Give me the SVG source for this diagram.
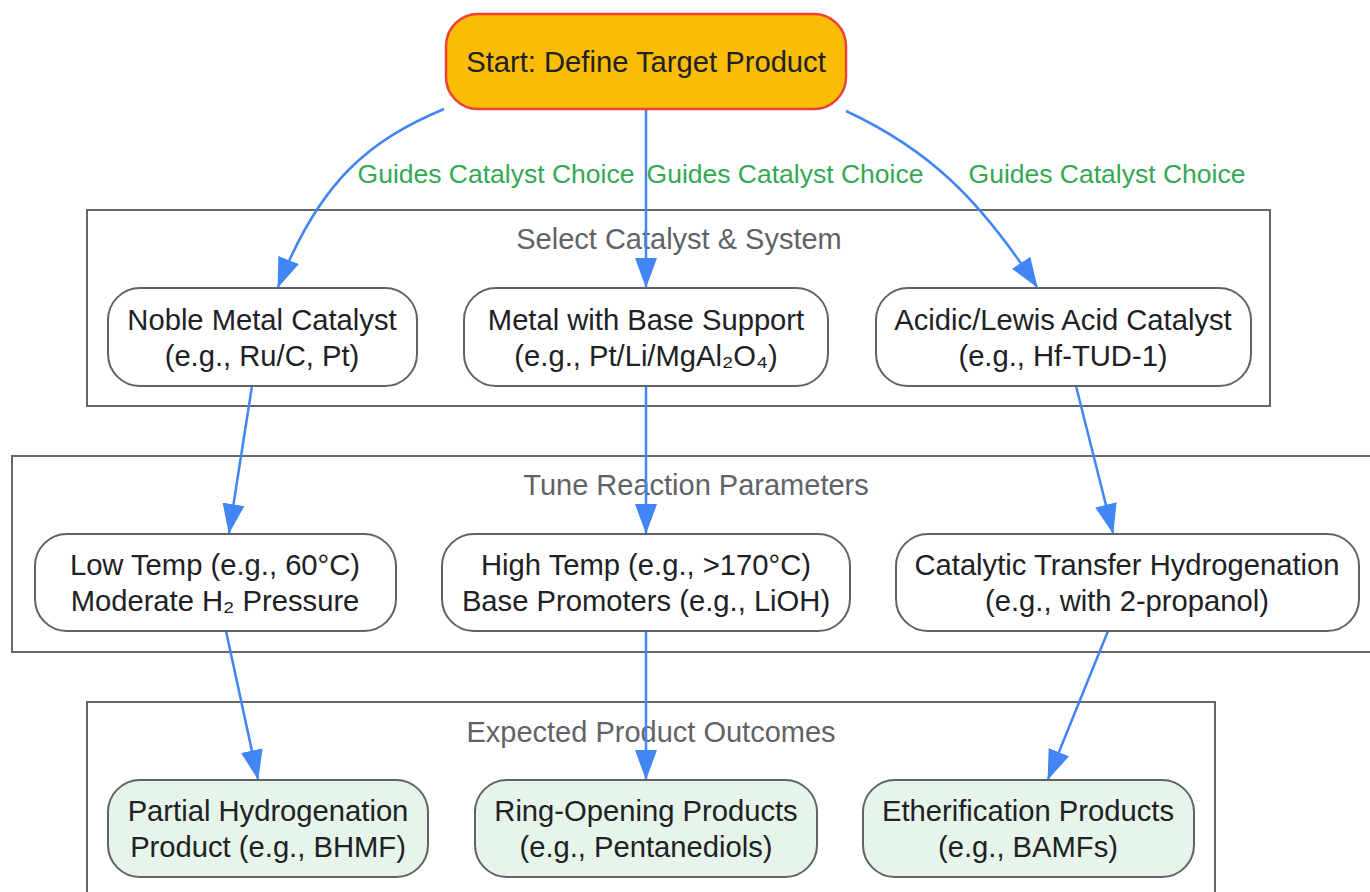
<svg xmlns="http://www.w3.org/2000/svg" width="1370" height="892" viewBox="0 0 1370 892">
<defs>
<marker id="arr" markerUnits="userSpaceOnUse" markerWidth="30" markerHeight="22" refX="29" refY="11" orient="auto">
<path d="M0,0 L30,11 L0,22 z" fill="#4285F4"/>
</marker>
<style>
.cl{fill:none;stroke:#666;stroke-width:2}
.ct{font-family:"Liberation Sans",Arial,sans-serif;font-size:29px;fill:#5f6368;text-anchor:middle}
.nd{fill:#fff;stroke:#5f6368;stroke-width:2}
.out{fill:#E6F4EA;stroke:#5f6368;stroke-width:2}
.tx{font-family:"Liberation Sans",Arial,sans-serif;font-size:29.2px;fill:#202124;text-anchor:middle}
.ed{fill:none;stroke:#4285F4;stroke-width:2.5;marker-end:url(#arr)}
.el{font-family:"Liberation Sans",Arial,sans-serif;font-size:26.5px;fill:#34A853;text-anchor:middle}
</style>
</defs>
<rect width="1370" height="892" fill="#fff"/>

<g id="cluster-select">
<rect class="cl" x="87" y="210" width="1183" height="196"/>
<text class="ct" x="679" y="249">Select Catalyst &amp; System</text>
</g>
<g id="cluster-tune">
<rect class="cl" x="12" y="456" width="1380" height="196"/>
<text class="ct" x="696" y="495">Tune Reaction Parameters</text>
</g>
<g id="cluster-outcomes">
<rect class="cl" x="87" y="702" width="1128" height="220"/>
<text class="ct" x="651" y="742">Expected Product Outcomes</text>
</g>

<g id="connectors">
<path class="ed" d="M444,109 C370,140 320,180 278,287"/>
<path class="ed" d="M646,109 L646,287"/>
<path class="ed" d="M846,111 C930,150 980,200 1037,287"/>
<path class="ed" d="M252,386 L229,533"/>
<path class="ed" d="M646,386 L646,533"/>
<path class="ed" d="M1076,386 L1113,533"/>
<path class="ed" d="M226,631 L258,779"/>
<path class="ed" d="M646,631 L646,779"/>
<path class="ed" d="M1108,631 L1048,779"/>
<text class="el" x="496" y="183">Guides Catalyst Choice</text>
<text class="el" x="785" y="183">Guides Catalyst Choice</text>
<text class="el" x="1107" y="183">Guides Catalyst Choice</text>
</g>

<g id="start">
<rect x="446" y="14" width="400" height="95" rx="32" fill="#FBBC05" stroke="#EA4335" stroke-width="2.5"/>
<text class="tx" x="646" y="72">Start: Define Target Product</text>
</g>
<g id="noble">
<rect class="nd" x="108" y="288" width="309" height="98" rx="32"/>
<text class="tx" x="262" y="330">Noble Metal Catalyst</text>
<text class="tx" x="262" y="366">(e.g., Ru/C, Pt)</text>
</g>
<g id="metal-base">
<rect class="nd" x="464" y="288" width="364" height="98" rx="32"/>
<text class="tx" x="646" y="330">Metal with Base Support</text>
<text class="tx" x="646" y="366">(e.g., Pt/Li/MgAl₂O₄)</text>
</g>
<g id="acidic">
<rect class="nd" x="876" y="288" width="375" height="98" rx="32"/>
<text class="tx" x="1063" y="330">Acidic/Lewis Acid Catalyst</text>
<text class="tx" x="1063" y="366">(e.g., Hf-TUD-1)</text>
</g>
<g id="low-temp">
<rect class="nd" x="35" y="534" width="361" height="97" rx="32"/>
<text class="tx" x="215" y="575">Low Temp (e.g., 60°C)</text>
<text class="tx" x="215" y="611">Moderate H₂ Pressure</text>
</g>
<g id="high-temp">
<rect class="nd" x="442" y="534" width="408" height="97" rx="32"/>
<text class="tx" x="646" y="575">High Temp (e.g., &gt;170°C)</text>
<text class="tx" x="646" y="611">Base Promoters (e.g., LiOH)</text>
</g>
<g id="cth">
<rect class="nd" x="896" y="534" width="463" height="97" rx="32"/>
<text class="tx" x="1127" y="575">Catalytic Transfer Hydrogenation</text>
<text class="tx" x="1127" y="611">(e.g., with 2-propanol)</text>
</g>
<g id="partial">
<rect class="out" x="108" y="780" width="320" height="97" rx="32"/>
<text class="tx" x="268" y="821">Partial Hydrogenation</text>
<text class="tx" x="268" y="857">Product (e.g., BHMF)</text>
</g>
<g id="ring-opening">
<rect class="out" x="475" y="780" width="342" height="97" rx="32"/>
<text class="tx" x="646" y="821">Ring-Opening Products</text>
<text class="tx" x="646" y="857">(e.g., Pentanediols)</text>
</g>
<g id="etherification">
<rect class="out" x="863" y="780" width="331" height="97" rx="32"/>
<text class="tx" x="1028" y="821">Etherification Products</text>
<text class="tx" x="1028" y="857">(e.g., BAMFs)</text>
</g>
</svg>
